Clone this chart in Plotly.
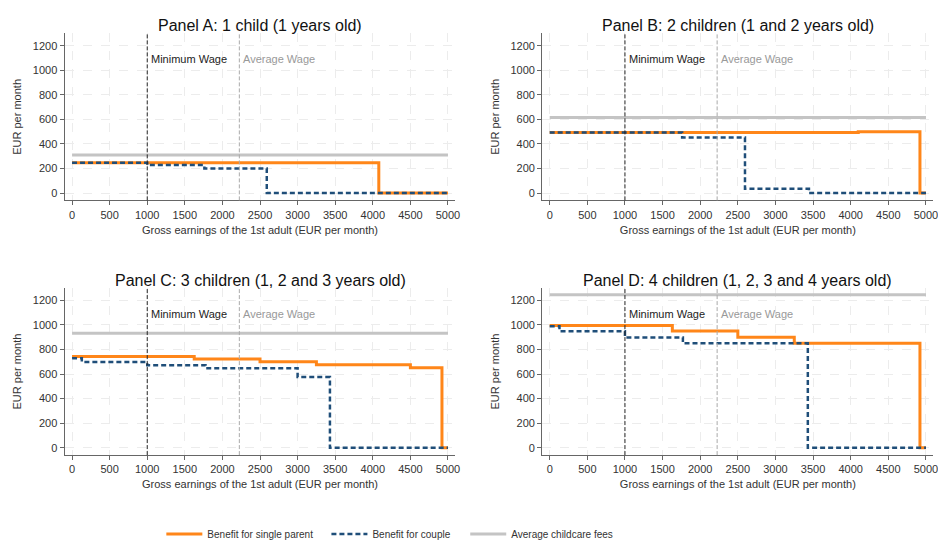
import plotly.graph_objects as go

# Earnings grid breakpoints (EUR per month) and benefit levels per panel
panel_titles = [
    "Panel A: 1 child (1 years old)",
    "Panel B: 2 children (1 and 2 years old)",
    "Panel C: 3 children (1, 2 and 3 years old)",
    "Panel D: 4 children (1, 2, 3 and 4 years old)",
]

single_x = [
    [0, 4080, 5000],
    [0, 4100, 4920, 5000],
    [0, 1625, 2500, 3250, 4500, 4920, 5000],
    [0, 1630, 2500, 3250, 4920, 5000],
]
single_y = [
    [246, 0, 0],
    [493, 498, 0, 0],
    [742, 722, 700, 675, 652, 0, 0],
    [995, 950, 900, 850, 0, 0],
]

couple_x = [
    [0, 1000, 1760, 2590, 5000],
    [0, 1760, 2595, 3445, 5000],
    [0, 130, 1000, 1775, 3000, 3430, 5000],
    [0, 130, 1000, 1770, 3430, 5000],
]
couple_y = [
    [246, 228, 200, 0, 0],
    [493, 452, 35, 0, 0],
    [728, 698, 672, 648, 575, 0, 0],
    [990, 948, 898, 850, 0, 0],
]

childcare_fees = [310, 615, 932, 1245]

minimum_wage = 1000
average_wage = 2225

x_ticks = list(range(0, 5001, 500))
y_ticks = list(range(0, 1201, 200))

ORANGE = "#ff8619"
NAVY = "#1f4e79"
GREY = "#c4c4c4"
FONT = "Liberation Sans, Arial, sans-serif"

# subplot domains: (x0, x1), (y0, y1)
x_domains = [(0.0688, 0.4856), (0.578, 0.9952), (0.0688, 0.4856), (0.578, 0.9952)]
y_domains = [(0.6296, 0.9383), (0.6296, 0.9383), (0.1588, 0.4675), (0.1588, 0.4675)]

fig = go.Figure()

for i in range(4):
    n = "" if i == 0 else str(i + 1)
    xa, ya = "x" + n, "y" + n
    fig.add_trace(go.Scatter(
        x=[0, 5000], y=[childcare_fees[i]] * 2, mode="lines",
        line=dict(color=GREY, width=3), xaxis=xa, yaxis=ya,
        name="Average childcare fees", legend="legend3", showlegend=(i == 0),
        hoverinfo="skip"))
    fig.add_trace(go.Scatter(
        x=single_x[i], y=single_y[i], mode="lines", line_shape="hv",
        line=dict(color=ORANGE, width=3), xaxis=xa, yaxis=ya,
        name="Benefit for single parent", legend="legend", showlegend=(i == 0)))
    fig.add_trace(go.Scatter(
        x=couple_x[i], y=couple_y[i], mode="lines", line_shape="hv",
        line=dict(color=NAVY, width=2.5, dash="5px,3px"), xaxis=xa, yaxis=ya,
        name="Benefit for couple", legend="legend2", showlegend=(i == 0)))

    axis_common = dict(
        showgrid=True, gridcolor="#ececec", griddash="dash", gridwidth=1,
        zeroline=False, showline=True, linecolor="#666", linewidth=1,
        ticks="outside", ticklen=4, tickcolor="#666", automargin=False,
        ticklabeloverflow="allow",
        tickfont=dict(family=FONT, size=11, color="#333"),
    )
    fig.layout["xaxis" + n] = dict(
        axis_common, domain=x_domains[i], anchor=ya, range=[-100, 5100],
        tickvals=x_ticks,
        title=dict(text="Gross earnings of the 1st adult (EUR per month)",
                   font=dict(family=FONT, size=11, color="#333"), standoff=6),
    )
    fig.layout["yaxis" + n] = dict(
        axis_common, domain=y_domains[i], anchor=xa, range=[-60, 1300],
        tickvals=y_ticks,
        title=dict(text="EUR per month",
                   font=dict(family=FONT, size=11, color="#333"), standoff=8),
    )

    # wage reference lines
    fig.add_shape(type="line", xref=xa, yref=ya + " domain", x0=minimum_wage,
                  x1=minimum_wage, y0=0, y1=1,
                  line=dict(color="#222", width=1, dash="4px,2px"))
    fig.add_shape(type="line", xref=xa, yref=ya + " domain", x0=average_wage,
                  x1=average_wage, y0=0, y1=1,
                  line=dict(color="#aaa", width=1, dash="4px,2px"))
    fig.add_annotation(x=minimum_wage, y=1090, xref=xa, yref=ya, text="Minimum Wage",
                       showarrow=False, xanchor="left", xshift=2,
                       font=dict(family=FONT, size=11, color="#222"))
    fig.add_annotation(x=average_wage, y=1090, xref=xa, yref=ya, text="Average Wage",
                       showarrow=False, xanchor="left", xshift=2,
                       font=dict(family=FONT, size=11, color="#999"))

    # panel title centred over the plot area
    fig.add_annotation(x=(x_domains[i][0] + x_domains[i][1]) / 2, y=y_domains[i][1],
                       xref="paper", yref="paper", text=panel_titles[i],
                       showarrow=False, xanchor="center", yanchor="bottom", yshift=-3,
                       font=dict(family=FONT, size=16, color="#111"))

legend_common = dict(orientation="h", yanchor="middle", y=0.013, xanchor="left",
                     bgcolor="rgba(0,0,0,0)", itemwidth=36,
                     font=dict(family=FONT, size=10, color="#333"))
fig.update_layout(
    width=938, height=541,
    margin=dict(l=0, r=0, t=0, b=0, autoexpand=False),
    paper_bgcolor="white", plot_bgcolor="white",
    legend=dict(legend_common, x=0.172),
    legend2=dict(legend_common, x=0.348),
    legend3=dict(legend_common, x=0.496),
)

fig.write_html("out.html")
